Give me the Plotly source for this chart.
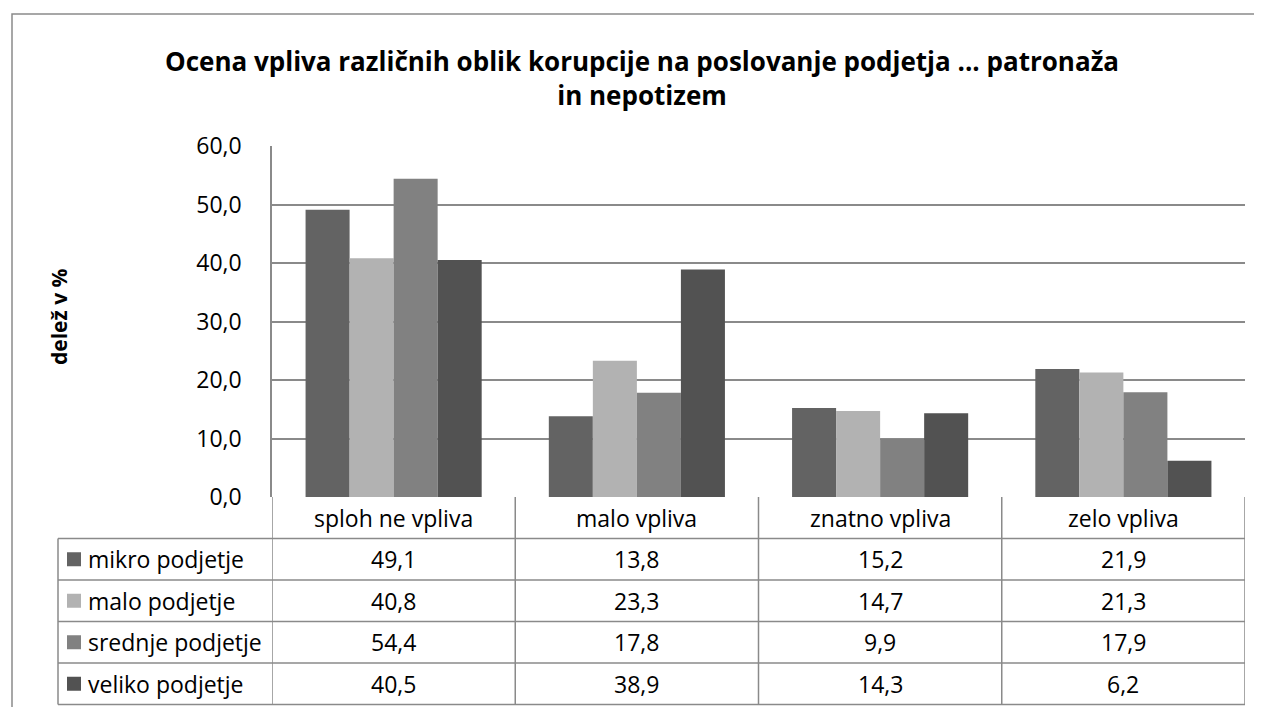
import plotly.graph_objects as go

categories = ["sploh ne vpliva", "malo vpliva", "znatno vpliva", "zelo vpliva"]
series_names = ["mikro podjetje", "malo podjetje", "srednje podjetje", "veliko podjetje"]
mikro = [49.1, 13.8, 15.2, 21.9]
malo = [40.8, 23.3, 14.7, 21.3]
srednje = [54.4, 17.8, 9.9, 17.9]
veliko = [40.5, 38.9, 14.3, 6.2]
series_values = [mikro, malo, srednje, veliko]
colors = ["#636363", "#b2b2b2", "#818181", "#525252"]
y_ticks = [0, 10, 20, 30, 40, 50, 60]

OFF = 8                      # default page body margin
W, H = 1262 - OFF, 707 - OFF
L, R, T, B = 272, 1245, 146, 497   # plot area in reference pixels
FONT = "Open Sans"
LINE = "#8a8a8a"
TXT = dict(family=FONT, size=23, color="#000")

def px(x):
    return (x - L) / (R - L)

def py(y):
    return (B - y) / (B - T)

fig = go.Figure()
xs = list(range(len(categories)))
for name, vals, col in zip(series_names, series_values, colors):
    fig.add_trace(go.Bar(x=xs, y=vals, name=name, marker=dict(color=col, line=dict(width=0))))

shapes = []
annotations = []

# outer chart border
shapes.append(dict(type="rect", xref="paper", yref="paper",
                   x0=px(12), x1=px(1280), y0=py(14), y1=py(730),
                   line=dict(color=LINE, width=1.5), fillcolor="rgba(0,0,0,0)", layer="below"))

# data table
row_h = 41.5
header_bottom = B + row_h
n_rows = len(series_names)
table_left = 58
bottom = header_bottom + n_rows * row_h
for i in range(n_rows + 1):
    yy = header_bottom + i * row_h
    shapes.append(dict(type="line", xref="paper", yref="paper",
                       x0=px(table_left), x1=1, y0=py(yy), y1=py(yy),
                       line=dict(color=LINE, width=1.5)))
for k in range(len(categories) + 1):
    shapes.append(dict(type="line", xref="x", yref="paper",
                       x0=k - 0.5, x1=k - 0.5, y0=py(B), y1=py(bottom),
                       line=dict(color=LINE, width=1.5)))
shapes.append(dict(type="line", xref="paper", yref="paper",
                   x0=px(table_left), x1=px(table_left), y0=py(header_bottom), y1=py(bottom),
                   line=dict(color=LINE, width=1.5)))

for k, c in enumerate(categories):
    annotations.append(dict(x=k, y=py(B + row_h / 2), xref="x", yref="paper",
                            text=c, showarrow=False, font=TXT,
                            xanchor="center", yanchor="middle"))
for i, (name, vals, col) in enumerate(zip(series_names, series_values, colors)):
    yc = header_bottom + (i + 0.5) * row_h
    shapes.append(dict(type="rect", xref="paper", yref="paper",
                       x0=px(67), x1=px(81), y0=py(yc - 7), y1=py(yc + 7),
                       fillcolor=col, line=dict(width=0)))
    annotations.append(dict(x=px(86), y=py(yc), xref="paper", yref="paper",
                            text=name, showarrow=False, font=TXT,
                            xanchor="left", yanchor="middle"))
    for k, v in enumerate(vals):
        annotations.append(dict(x=k, y=py(yc), xref="x", yref="paper",
                                text=f"{v:.1f}".replace(".", ","), showarrow=False,
                                font=TXT, xanchor="center", yanchor="middle"))

annotations.append(dict(x=px(59), y=py(317), xref="paper", yref="paper",
                        text="<b>delež v %</b>", textangle=-90, showarrow=False,
                        font=dict(family=FONT, size=21, color="#000"),
                        xanchor="center", yanchor="middle"))

fig.update_layout(
    width=W, height=H,
    margin=dict(l=L - OFF, r=1262 - R, t=T - OFF, b=707 - B, pad=0),
    paper_bgcolor="white", plot_bgcolor="white",
    separators=",.",
    barmode="group", bargap=0.276, bargroupgap=0,
    showlegend=False,
    title=dict(text="<b>Ocena vpliva različnih oblik korupcije na poslovanje podjetja ... patronaža<br>in nepotizem</b>",
               x=(642 - OFF) / W, xanchor="center", y=1 - (71 - OFF) / H, yanchor="middle",
               xref="container", yref="container",
               font=dict(family=FONT, size=26, color="#000")),
    font=TXT,
    xaxis=dict(range=[-0.5, 3.5], showticklabels=False, showgrid=False, zeroline=False,
               showline=False, fixedrange=True),
    yaxis=dict(range=[0, 60], tickvals=y_ticks, tickformat=".1f", showgrid=True,
               gridcolor=LINE, gridwidth=1.5, zeroline=False, showline=True,
               linecolor=LINE, linewidth=1.5, ticks="", ticklabelstandoff=24,
               tickfont=TXT),
    shapes=shapes, annotations=annotations,
)

fig.write_html("out.html")
